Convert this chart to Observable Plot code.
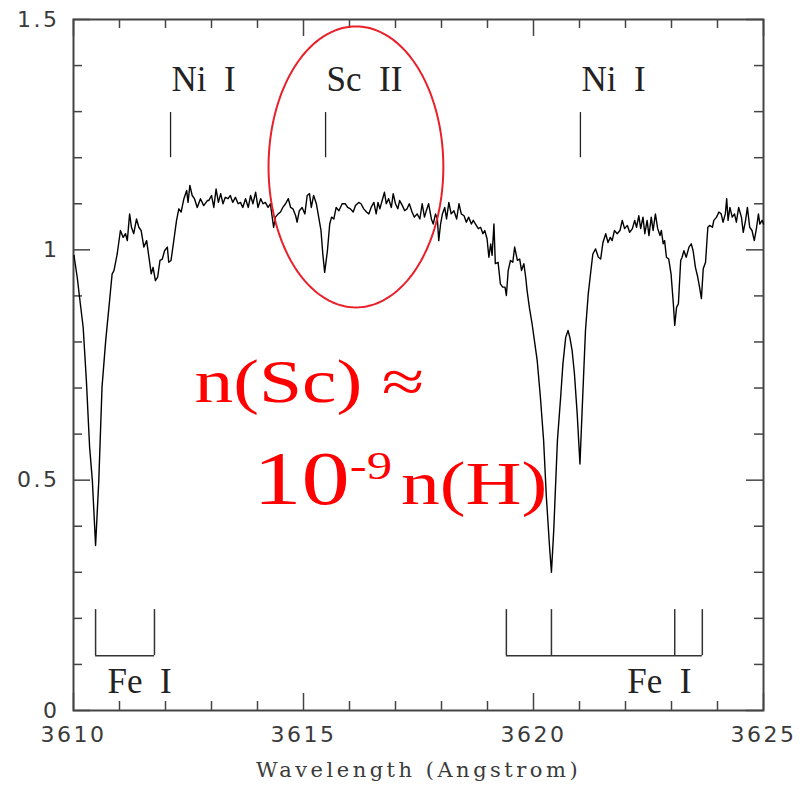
<!DOCTYPE html>
<html><head><meta charset="utf-8">
<script src="https://cdn.jsdelivr.net/npm/d3@7"></script>
<script src="https://cdn.jsdelivr.net/npm/@observablehq/plot@0.6"></script>
<style>
body{margin:0;background:#fff}
g[aria-label="x-axis tick label"] text, g[aria-label="y-axis tick label"] text{letter-spacing:2.5px}
</style>
</head><body><div id="chart"></div>
<script>
// Spectrum: wavelength (Angstrom) and normalised flux
const wavelength = [
3610.01,3610.08,3610.14,3610.21,3610.28,3610.35,3610.41,3610.48,3610.55,3610.62,3610.70,3610.77,3610.84,3610.88,3610.95,3611.02,3611.08,3611.13,3611.17,3611.22,3611.26,3611.31,3611.37,3611.42,3611.47,3611.53,3611.59,3611.64,3611.69,3611.73,3611.78,3611.83,3611.88,3611.93,3611.98,3612.04,3612.07,3612.12,3612.18,3612.24,3612.29,3612.34,3612.40,3612.46,3612.49,3612.53,3612.58,3612.63,3612.69,3612.76,3612.83,3612.91,
3612.94,3613.00,3613.05,3613.10,3613.15,3613.20,3613.25,3613.30,3613.36,3613.41,3613.46,3613.52,3613.58,3613.63,3613.68,3613.74,3613.80,3613.85,3613.90,3613.96,3614.01,3614.07,3614.12,3614.17,3614.23,3614.28,3614.32,3614.35,3614.39,3614.45,3614.50,3614.55,3614.61,3614.67,3614.72,3614.77,3614.83,3614.86,3614.91,3614.97,3615.03,3615.08,3615.13,3615.17,3615.22,3615.28,3615.33,3615.38,3615.42,3615.46,3615.52,3615.57,3615.61,3615.66,3615.71,3615.77,3615.84,
3615.91,3615.96,3616.02,3616.08,3616.13,3616.20,3616.25,3616.31,3616.37,3616.42,3616.47,3616.53,3616.58,3616.62,3616.66,3616.71,3616.76,3616.80,3616.85,3616.91,3616.95,3617.00,3617.05,3617.09,3617.15,3617.20,3617.25,3617.30,3617.36,3617.41,3617.47,3617.53,3617.58,3617.63,3617.67,3617.72,3617.78,3617.82,3617.87,3617.91,3617.94,3617.98,3618.02,3618.07,3618.11,3618.16,3618.21,3618.27,3618.33,3618.38,3618.43,3618.49,3618.54,3618.59,3618.65,3618.69,3618.74,
3618.80,3618.85,3618.90,3618.94,3618.99,3619.03,3619.07,3619.10,3619.14,3619.17,3619.23,3619.28,3619.33,3619.38,3619.41,3619.45,3619.50,3619.55,3619.59,3619.65,3619.70,3619.74,3619.79,3619.83,3619.86,3619.91,3619.97,3620.02,3620.08,3620.15,3620.22,3620.28,3620.35,3620.39,3620.44,3620.52,3620.59,3620.64,3620.70,3620.75,3620.79,3620.84,3620.89,3620.95,3621.01,3621.06,3621.13,3621.19,3621.24,3621.29,3621.35,3621.41,3621.46,3621.51,3621.57,3621.62,3621.67,
3621.71,3621.76,3621.82,3621.88,3621.93,3621.98,3622.04,3622.09,3622.15,3622.20,3622.24,3622.29,3622.33,3622.38,3622.42,3622.47,3622.51,3622.56,3622.60,3622.65,3622.70,3622.75,3622.78,3622.82,3622.85,3622.89,3622.94,3622.99,3623.04,3623.07,3623.11,3623.15,3623.20,3623.23,3623.27,3623.32,3623.38,3623.43,3623.47,3623.52,3623.57,3623.61,3623.65,3623.69,3623.74,3623.79,3623.83,3623.89,3623.92,3623.98,3624.03,3624.08,3624.12,3624.17,3624.20,3624.23,3624.27,3624.32,3624.37,3624.41,3624.46,3624.52,3624.56,3624.61,3624.65,3624.70,3624.75,3624.80,3624.85,3624.89,3624.92,3624.97,3625.00
];
const flux = [
0.988,0.941,0.890,0.832,0.716,0.572,0.499,0.358,0.499,0.702,0.803,0.875,0.948,0.955,0.991,1.042,1.027,1.035,1.020,1.078,1.049,1.035,1.067,1.049,1.042,1.006,1.020,0.984,0.948,0.962,0.933,0.941,0.977,0.980,0.998,1.006,0.973,0.977,1.020,1.064,1.089,1.082,1.111,1.129,1.103,1.140,1.118,1.111,1.092,1.111,1.096,1.107,
1.107,1.118,1.092,1.132,1.103,1.122,1.100,1.114,1.111,1.118,1.103,1.114,1.100,1.103,1.092,1.111,1.092,1.118,1.100,1.125,1.092,1.111,1.100,1.103,1.092,1.100,1.071,1.049,1.071,1.078,1.082,1.092,1.100,1.111,1.092,1.089,1.074,1.060,1.085,1.092,1.078,1.118,1.122,1.092,1.118,1.100,1.071,1.042,0.991,0.951,0.998,1.056,1.071,1.067,1.092,1.085,1.100,
1.100,1.092,1.089,1.082,1.096,1.103,1.100,1.089,1.082,1.078,1.092,1.103,1.078,1.103,1.089,1.107,1.125,1.100,1.111,1.092,1.122,1.100,1.089,1.107,1.096,1.085,1.089,1.100,1.082,1.071,1.078,1.067,1.100,1.071,1.085,1.100,1.067,1.056,1.078,1.067,1.020,1.056,1.078,1.092,1.067,1.103,1.078,1.085,1.067,1.100,1.078,1.074,1.060,1.071,1.056,1.064,1.056,
1.046,1.049,1.035,1.042,1.024,0.984,1.013,0.988,1.056,0.970,0.973,0.926,0.919,0.919,0.901,0.955,0.977,0.973,1.006,0.977,0.980,0.955,0.970,0.941,0.912,0.875,0.839,0.803,0.760,0.680,0.586,0.463,0.354,0.300,0.391,0.586,0.680,0.753,0.810,0.825,0.810,0.781,0.731,0.644,0.535,0.658,0.825,0.904,0.948,0.991,1.002,0.984,0.980,1.016,1.035,1.016,1.027,
1.020,1.042,1.035,1.042,1.064,1.046,1.053,1.038,1.046,1.064,1.049,1.074,1.046,1.071,1.035,1.064,1.031,1.071,1.042,1.078,1.046,1.031,1.042,1.013,1.020,0.984,0.980,0.948,0.883,0.836,0.875,0.883,0.977,0.984,0.998,0.984,1.006,1.013,0.998,0.962,0.941,0.919,0.894,0.959,0.973,1.049,1.053,1.049,1.064,1.071,1.082,1.078,1.060,1.078,1.111,1.064,1.092,1.071,1.078,1.060,1.092,1.071,1.038,1.064,1.092,1.049,1.042,1.020,1.049,1.078,1.056,1.064,1.056
];

// Line identifications
const markerWavelengths = [3612.11, 3615.48, 3621.02];
const markerLabels = ["Ni\u00a0\u00a0I", "Sc\u00a0\u00a0II", "Ni\u00a0\u00a0I"];
const feLeft = [3610.48, 3611.76];
const feRight = [3619.41, 3620.39, 3623.07, 3623.67];
const feLabelWavelengths = [3610.74, 3622.04];
const feLabels = ["Fe\u00a0\u00a0I", "Fe\u00a0\u00a0I"];

// Axis ticks
const xMajorTicks = [3610, 3615, 3620, 3625];
const yMajorTicks = [0, 0.5, 1, 1.5];
const xLabel = "Wavelength (Angstrom)";

// Annotation (highlight of the Sc II line)
const ellipseCenter = [3616.14, 1.18];
const ellipseRadius = [1.90, 0.305];
const noteLines = ["n(Sc) \u2248", "10-9 n(H)"];
const noteWavelengths = [3612.63, 3613.91];
const noteFlux = [0.669, 0.449];

const spectrum = wavelength.map((w, i) => ({w, f: flux[i]}));
const xMinor = d3.range(3611, 3625).filter(v => !xMajorTicks.includes(v));
const yMinor = d3.range(1, 15).map(v => v / 10).filter(v => !yMajorTicks.includes(v));
const ellipse = d3.range(0, 361, 2).map(a => ({
  w: ellipseCenter[0] + ellipseRadius[0] * Math.cos(a * Math.PI / 180),
  f: ellipseCenter[1] + ellipseRadius[1] * Math.sin(a * Math.PI / 180)
}));

const W = 811, H = 786, mL = 73, mR = 48, mT = 19, mB = 76;
const fH = H - mT - mB, fW = W - mL - mR;
const tickCol = "#444";
const minorLen = 9, majorLen = 17;
const markerLow = 1.20, markerHigh = 1.298, markerText = 1.37;
const feLow = 0.119, feHigh = 0.219, feText = 0.063;
const serif = "'Liberation Serif', 'DejaVu Serif', serif";

const chart = Plot.plot({
  width: W, height: H,
  marginLeft: mL, marginRight: mR, marginTop: mT, marginBottom: mB,
  x: {domain: [3610, 3625]},
  y: {domain: [0, 1.5]},
  style: {background: "#fff", fontFamily: "'DejaVu Sans', sans-serif", overflow: "visible"},
  marks: [
    // tick labels
    Plot.axisX(xMajorTicks, {tickSize: 0, tickPadding: 16, fontSize: 22, tickFormat: d => String(d), fill: "#3a3a3a", label: null}),
    Plot.axisY(yMajorTicks, {tickSize: 0, tickPadding: 14, fontSize: 22, tickFormat: d => String(d), fill: "#3a3a3a", label: null}),
    Plot.text([xLabel], {frameAnchor: "bottom", dy: 60, text: d => d, fontSize: 21, fontFamily: "'DejaVu Serif', serif", fill: "#3a3a3a", lineAnchor: "middle"}),
    // inward ticks
    Plot.tickX(xMinor, {x: d => d, insetTop: fH - minorLen, stroke: tickCol, strokeWidth: 1.5}),
    Plot.tickX(xMinor, {x: d => d, insetBottom: fH - minorLen, stroke: tickCol, strokeWidth: 1.5}),
    Plot.tickX(xMajorTicks, {x: d => d, insetTop: fH - majorLen, stroke: tickCol, strokeWidth: 1.5}),
    Plot.tickX(xMajorTicks, {x: d => d, insetBottom: fH - majorLen, stroke: tickCol, strokeWidth: 1.5}),
    Plot.tickY(yMinor, {y: d => d, insetRight: fW - minorLen, stroke: tickCol, strokeWidth: 1.5}),
    Plot.tickY(yMinor, {y: d => d, insetLeft: fW - minorLen, stroke: tickCol, strokeWidth: 1.5}),
    Plot.tickY(yMajorTicks, {y: d => d, insetRight: fW - majorLen, stroke: tickCol, strokeWidth: 1.5}),
    Plot.tickY(yMajorTicks, {y: d => d, insetLeft: fW - majorLen, stroke: tickCol, strokeWidth: 1.5}),
    Plot.frame({stroke: tickCol, strokeWidth: 2}),
    // line identifications
    Plot.ruleX(markerWavelengths, {x: d => d, y1: markerLow, y2: markerHigh, stroke: "#222", strokeWidth: 1.3}),
    Plot.text(markerWavelengths, {x: d => d, y: markerText, text: (d, i) => markerLabels[i], textAnchor: "start", dx: 1, fontSize: 35, fontFamily: serif, fill: "#222", lineAnchor: "middle"}),
    Plot.ruleX(feLeft.concat(feRight), {x: d => d, y1: feLow, y2: feHigh, stroke: "#333", strokeWidth: 1.5}),
    Plot.ruleY([feLow], {x1: d3.min(feLeft), x2: d3.max(feLeft), stroke: "#333", strokeWidth: 1.5}),
    Plot.ruleY([feLow], {x1: d3.min(feRight), x2: d3.max(feRight), stroke: "#333", strokeWidth: 1.5}),
    Plot.text(feLabelWavelengths, {x: d => d, y: feText, text: (d, i) => feLabels[i], textAnchor: "start", fontSize: 35, fontFamily: serif, fill: "#222", lineAnchor: "middle"}),
    // spectrum
    Plot.line(spectrum, {x: "w", y: "f", stroke: "#000", strokeWidth: 1.4, strokeLinejoin: "round"}),
    // annotation
    Plot.line(ellipse, {x: "w", y: "f", stroke: "#e8202a", strokeWidth: 2}),
    Plot.text(noteLines, {x: (d, i) => noteWavelengths[i], y: (d, i) => noteFlux[i], text: d => d, textAnchor: "start", lineAnchor: "bottom", fontSize: 61, fontFamily: serif, fill: "#ff0000"})
  ]
});
document.getElementById("chart").appendChild(chart);

// Axis label spacing; red note: horizontal stretch and superscript exponent
const ns = "http://www.w3.org/2000/svg";
chart.querySelectorAll("text").forEach(t => {
  if (t.textContent === xLabel) t.style.letterSpacing = "3.5px";
  if (noteLines.includes(t.textContent)) {
    const tr = t.getAttribute("transform") || "";
    t.setAttribute("transform", tr + " scale(1.27,1)");
    if (t.textContent === noteLines[1]) {
      t.textContent = "";
      const parts = [
        {s: "10", fs: "76"},
        {s: "-9", fs: "40", dy: "-25"},
        {s: "n(H)", fs: "61", dy: "25", dx: "7"}
      ];
      parts.forEach(p => {
        const sp = document.createElementNS(ns, "tspan");
        sp.textContent = p.s;
        sp.setAttribute("font-size", p.fs);
        if (p.dy) sp.setAttribute("dy", p.dy);
        if (p.dx) sp.setAttribute("dx", p.dx);
        t.appendChild(sp);
      });
    }
  }
});
</script>
</body></html>
